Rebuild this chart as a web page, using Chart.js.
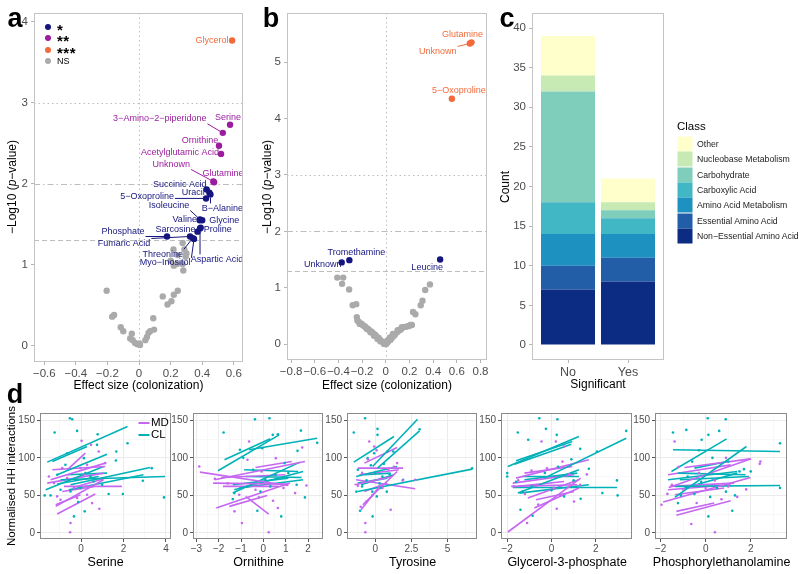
<!DOCTYPE html>
<html>
<head>
<meta charset="utf-8">
<script src="https://cdn.jsdelivr.net/npm/chart.js@4.4.0/dist/chart.umd.min.js"></script>
<style>
  body { margin: 0; width: 800px; height: 574px; position: relative; background: #fff; overflow: hidden;
         font-family: 'Liberation Sans', Arial, sans-serif; }
  canvas { position: absolute; }
  .t { position: absolute; white-space: nowrap; color: #000; line-height: 1; }
</style>
</head>
<body>
<canvas id="pa"></canvas>
<canvas id="pb"></canvas>
<canvas id="pc"></canvas>
<canvas id="d1"></canvas>
<canvas id="d2"></canvas>
<canvas id="d3"></canvas>
<canvas id="d4"></canvas>
<canvas id="d5"></canvas>
<script>
// ---------- panel a : volcano, colonization (metabolite model 1)
const aNames = ['Glycerol', 'Serine', '3\u2212Amino\u22122\u2212piperidone', 'Ornithine', 'Acetylglutamic Acid', 'Unknown', 'Glutamine',
  'Succinic Acid', 'Uracil', '5\u2212Oxoproline', 'B\u2212Alanine', 'Isoleucine', 'Valine', 'Glycine', 'Proline', 'Sarcosine',
  'Phosphate', 'Fumaric Acid', 'Threonine', 'Myo\u2212Inositol', 'Aspartic Acid']
const aEffect = [0.589, 0.576, 0.53, 0.506, 0.519, 0.47, 0.475, 0.428, 0.445, 0.424, 0.452, 0.386, 0.384, 0.4, 0.39, 0.37, 0.177, 0.323, 0.34, 0.348, 0.386]
const aLogP = [3.77, 2.73, 2.63, 2.47, 2.37, 2.03, 2.02, 1.93, 1.89, 1.82, 1.87, 1.56, 1.55, 1.55, 1.46, 1.41, 1.35, 1.35, 1.33, 1.32, 1.45]
const aNsEffect = [-0.205, -0.158, -0.17, -0.116, -0.1, -0.046, -0.056, -0.04, -0.025, -0.01, 0.006, 0.003, 0.04, 0.05, 0.06, 0.07, 0.095,
  0.09, 0.15, 0.18, 0.205, 0.22, 0.245, 0.218, 0.245, 0.2, 0.276, 0.287, 0.295, 0.28, 0.276, 0.24, 0.22, 0.3]
const aNsLogP = [0.68, 0.38, 0.36, 0.23, 0.18, 0.15, 0.09, 0.07, 0.035, 0.02, 0.01, 0.03, 0.07, 0.11, 0.16, 0.18, 0.2,
  0.34, 0.61, 0.51, 0.55, 0.63, 0.68, 1.19, 1.12, 1.05, 1.27, 1.19, 1.1, 0.93, 1.01, 1.01, 0.99, 1.14]
const aXTicks = [-0.6, -0.4, -0.2, 0, 0.2, 0.4, 0.6]
const aYTicks = [0, 1, 2, 3, 4]

// ---------- panel b : volcano, second model
const bNames = ['Glutamine', 'Unknown', '5\u2212Oxoproline', 'Tromethamine', 'Unknown', 'Leucine']
const bEffect = [0.724, 0.71, 0.558, -0.308, -0.373, 0.459]
const bLogP = [5.35, 5.33, 4.35, 1.49, 1.45, 1.5]
const bNsEffect = [-0.41, -0.36, -0.37, -0.31, -0.28, -0.25, -0.245, -0.24, -0.23, -0.22, -0.21, -0.2, -0.19, -0.18, -0.17, -0.16, -0.15, -0.14,
  -0.13, -0.12, -0.11, -0.1, -0.09, -0.08, -0.07, -0.06, -0.05, -0.045, -0.03, -0.02, -0.015, -0.01, 0, 0.01, 0.015, 0.02, 0.035, 0.04,
  0.05, 0.06, 0.06, 0.07, 0.08, 0.1, 0.1, 0.12, 0.13, 0.135, 0.15, 0.17, 0.19, 0.2, 0.21, 0.22, 0.23, 0.25, 0.295, 0.31, 0.333, 0.373]
const bNsLogP = [1.18, 1.18, 1.07, 0.97, 0.69, 0.71, 0.48, 0.42, 0.4, 0.36, 0.37, 0.35, 0.33, 0.32, 0.3, 0.27, 0.27, 0.25,
  0.21, 0.22, 0.2, 0.15, 0.17, 0.14, 0.09, 0.11, 0.08, 0.05, 0.05, 0.03, 0.005, 0.01, 0, 0.02, 0.065, 0.05, 0.12, 0.08,
  0.11, 0.18, 0.16, 0.15, 0.18, 0.25, 0.22, 0.25, 0.27, 0.3, 0.3, 0.31, 0.32, 0.33, 0.34, 0.34, 0.57, 0.53, 0.69, 0.77, 0.96, 1.06]
const bXTicks = [-0.8, -0.6, -0.4, -0.2, 0, 0.2, 0.4, 0.6, 0.8]
const bYTicks = [0, 1, 2, 3, 4, 5]

// thresholds drawn in a and b
const vLines = [0]
const hDotted = 3
const hDashDot = 2
const hDashed = 1.301

// ---------- panel c : stacked counts
const sigLabels = ['No', 'Yes']
const classes = ['Non\u2212Essential Amino Acid', 'Essential Amino Acid', 'Amino Acid Metabolism', 'Carboxylic Acid', 'Carbohydrate', 'Nucleobase Metabolism', 'Other']
const countNo = [7, 3, 4, 4, 14, 2, 5]
const countYes = [8, 3, 3, 2, 1, 1, 3]
const cYTicks = [0, 5, 10, 15, 20, 25, 30, 35, 40]

// ---------- panel d : per-individual fits, segments are [x1, y1, x2, y2]
const groups = ['MD', 'CL']
const dYTicks = [0, 50, 100, 150]
const dYMinor = [25, 75, 125]

const serineCL = [[-1.6, 94.3, 2.19, 141.7], [-1.36, 95.2, 0.28, 115.1], [-1.13, 77.5, 1.22, 104.9], [-1.67, 57.5, 1.06, 88.5],
  [-0.97, 70.8, 3.96, 75.2], [-0.5, 64.2, 3.25, 87.2], [-0.66, 77.5, 1.22, 79.7], [-0.58, 57.5, 2.94, 77.5], [-1.13, 65.1, 0.83, 75.2]]
const serineMD = [[-1.2, 35.4, 1.06, 70.8], [-1.13, 25.2, 0.67, 51.8], [-1.44, 70.8, 1.14, 93], [-1.36, 84.1, 1.14, 88.5],
  [-0.81, 62, 1.92, 62], [-1.6, 66.4, 1.06, 79.7], [-0.66, 84.1, 0.2, 106.2], [-1.2, 37.6, -0.03, 50.9], [-0.19, 62, 1.06, 72.1], [-0.89, 55.3, 0.59, 61.5]]
const serinePtsCL = [[-0.53, 152.7], [-0.42, 151.4], [-1.25, 133.7], [-0.19, 135.9], [0.78, 131.5], [2.19, 119.5], [1.66, 108.4], [1.64, 96.5],
  [0.75, 117.3], [-0.66, 106.2], [0.13, 99.6], [-1.72, 50], [-1.44, 50], [-0.14, 41.2], [0.17, 28.8], [-0.34, 22.1], [1.3, 51.8], [1.97, 51.8],
  [2.91, 69.5], [3.91, 47.4], [0.2, 79.7], [0.44, 75.2], [-0.97, 57.5], [-0.5, 55.3], [0.59, 68.6], [0.99, 64.2], [-0.74, 90.7], [-0.19, 70.8],
  [-0.03, 59.8], [-1.13, 77.5], [3.33, 86.3]]
const serinePtsMD = [[0.02, 122.6], [0.47, 117.3], [0.83, 108.4], [-0.5, 13.3], [-0.52, 0.9], [0.86, 32.3], [0.52, 39.8], [-1.13, 48.7],
  [-0.97, 44.3], [-0.66, 73], [-0.03, 86.3], [0.28, 90.7], [0.13, 77.5], [-0.89, 86.3], [-1.28, 66.4], [-1.52, 75.2], [-0.34, 59.8],
  [0.28, 50.9], [-0.19, 46.5], [1.14, 93]]

const ornCL = [[-2.03, 82.8, 0.71, 130.6], [-1.74, 97.4, 0.31, 125.3], [-0.64, 110.7, 2.41, 126.2], [-1.37, 53.1, 1.64, 94.3],
  [-1.3, 57.5, 1.78, 81.9], [-0.86, 84.1, 1.56, 81.9], [-0.79, 75.2, 1.71, 73.9], [-1.37, 64.2, 1.12, 73], [-1.08, 59.8, 1.78, 70.8]]
const ornMD = [[-2.84, 81, 1.12, 63.3], [-2.18, 70.8, 1.86, 95.2], [-2.25, 66.4, 1.12, 65.1], [-2.11, 33.2, 1.19, 66.4],
  [-1.52, 35.4, 0.17, 50], [-0.79, 48.7, 0.24, 25.2], [-1.89, 73.9, 0.98, 77.5], [-0.35, 87.2, 1.27, 95.2], [-1.81, 62, 0.68, 62]]
const ornPtsCL = [[-0.375, 151.4], [0.27, 152.7], [-1.78, 133.7], [0.42, 130.6], [1.68, 136.3], [-1.05, 110.7], [-0.05, 112.9], [0.65, 131.5],
  [1.53, 109.3], [1.86, 47.4], [0.8, 22.1], [-0.27, 29.6], [-1.37, 45.1], [-1.3, 53.1], [0.95, 93], [1.12, 79.7], [-0.46, 84.1], [0.09, 70.8],
  [0.54, 77.5], [0.31, 62], [1.49, 64.2], [-0.71, 62], [-0.13, 55.3], [2.41, 120], [-0.9, 100]]
const ornPtsMD = [[-0.64, 121.7], [-2.87, 88.5], [-2.17, 72.1], [-0.96, 13.3], [0.24, 0.9], [-1.29, 28.8], [0.65, 33.2], [0.43, 42.9],
  [-0.2, 47.4], [1.74, 113.8], [1.93, 63.3], [0.56, 99.6], [-0.71, 97.4], [-0.08, 81.9], [-0.35, 57.5], [-1.08, 50.9], [1.42, 53.1], [0.9, 60], [-1.6, 66]]

const tyrCL = [[-1.48, 94.3, 1.3, 128.4], [-0.18, 88.5, 2.93, 151.4], [0.16, 86.3, 3.07, 135.9], [-1.2, 55.3, 6.7, 85],
  [-1.32, 75.2, 1.52, 88.5], [-0.98, 64.2, 1.29, 77.5], [-1.2, 66.4, 0.84, 73], [-0.75, 77.5, 1.07, 79.7]]
const tyrMD = [[-0.98, 31, 0.39, 64.2], [-0.86, 37.6, 1.52, 81.9], [-0.75, 93, 1.52, 113.8], [-1.2, 86.3, 1.93, 86.3],
  [-1.32, 70.8, 2.77, 58.9], [-1.43, 64.2, 1.18, 75.2], [-1.09, 77.5, 1.63, 84.1], [-0.75, 55.3, 0.84, 66.4]]
const tyrPtsCL = [[-0.7, 152.7], [-1.48, 133.7], [0.16, 138.6], [0.16, 130.6], [-0.52, 99.6], [-0.07, 106.2], [0.84, 108.4], [1.25, 108.4],
  [1.93, 70.8], [-1.2, 84.1], [-1.05, 29.6], [-0.18, 22.1], [0.11, 48.7], [0.39, 59.8], [-0.3, 90], [0, 80], [0.5, 75], [-0.6, 70], [-0.9, 62],
  [0.3, 66], [1, 78], [0.6, 92], [-0.2, 55], [-1.3, 55], [0.8, 55], [3.07, 138], [6.7, 86]]
const tyrPtsMD = [[-0.68, 13.3], [-0.68, 0.9], [1.07, 31], [2.77, 70.8], [1.52, 93], [-0.41, 121.7], [-0.07, 115.1], [0.1, 110], [-0.5, 98],
  [-0.9, 80], [-1.2, 63], [0.4, 72], [0.9, 85], [1.3, 88], [-0.6, 42], [-0.2, 50], [0.5, 60], [1.9, 70], [-1, 35]]

const g3pCL = [[-1.97, 88.5, 1.24, 128.4], [-1.6, 96, 0.94, 121.7], [-1.67, 91.6, 0.9, 118.2], [-0.33, 73, 3.38, 126.2],
  [-1.75, 60.6, 2.96, 60.6], [-1.52, 53.1, 1.24, 84.1], [-1.3, 75.2, 1.24, 75.2], [-1.22, 70.8, 1.17, 79.7], [-1.45, 53.1, 1.69, 64.2]]
const g3pMD = [[-1.97, 1.3, 1.32, 73], [-0.78, 33.2, 1.24, 59.8], [-0.7, 44.3, 1.02, 55.3], [-1.82, 62, 1.17, 64.2],
  [-1.6, 73, 1.69, 97.4], [-1.22, 79.7, 0.94, 88.5], [-1.75, 66.4, 1.02, 77.5], [-1.07, 46.5, 1.24, 70.8], [-1.52, 62, 0.57, 68.6]]
const g3pPtsCL = [[-0.55, 152.7], [-1.52, 133.7], [-0.25, 138.6], [0.27, 151.4], [-1.05, 124], [0.24, 130.6], [-2, 79.7], [-2, 75.2],
  [-1.4, 31], [-0.85, 23], [2.06, 108.4], [3.38, 135.9], [2.96, 70], [2.99, 50], [2.3, 53.1], [1.69, 85.4], [1.32, 45.6], [0.57, 48.7],
  [-1.3, 55], [-0.9, 62], [-0.3, 80], [0.3, 88], [0.9, 98], [1.3, 112], [-1.6, 68], [0, 57], [1, 70]]
const g3pPtsMD = [[-1.1, 13.3], [-0.45, 121.7], [0.2, 121.7], [0.57, 115.1], [0.24, 32.3], [1.02, 42], [-1.7, 62], [-0.2, 86], [0.5, 95],
  [1.3, 64], [-1.2, 52], [-0.6, 38], [0.1, 60], [0.8, 78], [-1.5, 70], [-0.9, 83], [1.6, 78], [0.4, 50]]

const pheCL = [[-1.45, 110.7, 3.3, 108.4], [-1.52, 81.9, 0.93, 125.3], [-1.37, 47.4, 1.81, 115.1], [-1.37, 62, 3.3, 63.3],
  [-1.23, 79.7, 1.77, 77.5], [-1.15, 70.8, 1.92, 75.2], [-0.94, 59.8, 1.4, 79.7], [-0.5, 86.3, 0.96, 95.2], [-1.67, 70.8, 1.4, 81.9]]
const pheMD = [[-1.89, 41.2, 1.99, 73.9], [-1.3, 23.5, 1.11, 42.9], [-1.3, 28.8, 0.38, 39.8], [-1.64, 60.6, 2.02, 98.7],
  [-0.94, 87.2, 1.99, 98.7], [-1.67, 77.5, 1.11, 90.7], [-1.59, 62, 1.26, 66.4], [-1.67, 57.5, 1.11, 64.2], [-1.37, 50.9, 0.82, 59.8]]
const phePtsCL = [[-1.45, 133.7], [0.09, 152.7], [0.89, 151.4], [-0.86, 137.2], [-0.18, 124], [0.12, 130.6], [0.6, 135.9], [3.3, 119.5],
  [0.12, 22.1], [1.18, 29.6], [-1.23, 39.8], [-0.3, 110], [0.3, 100], [1, 95], [1.5, 82], [2, 82], [-0.8, 75], [-0.2, 68], [0.5, 60],
  [0.9, 55], [1.3, 50], [-1.1, 50], [-0.5, 52], [0.2, 48], [3.3, 60], [1.7, 85], [-0.6, 95]]
const phePtsMD = [[-1.38, 121.7], [-0.64, 12], [0.41, 0.9], [-1.96, 37.6], [2.43, 95.2], [1.4, 48], [0.7, 45], [-0.3, 80], [-1.2, 88],
  [0.4, 70], [-1.5, 64], [-1, 58], [0, 60], [1, 62], [1.8, 58], [-0.4, 40], [0.9, 100], [2.4, 92], [-1.7, 52]]

// ---------- styles and layout
const FONT = "'Liberation Sans', Arial, sans-serif"
const sigColors = ['#aaaaaa', '#15157f', '#9c1ca0', '#f26a3b']
const classColors = ['#0c2c84', '#225ea8', '#1d91c0', '#41b6c4', '#7fcdbb', '#c7e9b4', '#ffffcc']
const grpColors = { MD: '#c667f2', CL: '#00b2b8' }

// label offsets (px from point to label centre)
const aLabelOff = [[-20, 0], [-2, -7], [-63, -14], [-19, -5], [-41, -1], [-42, -17], [9, -9], [-27, -5], [-16, 0], [-59, -2], [12, 14],
  [-31, -14], [-15, -1], [22, 0], [17, 2], [-22, -2], [-44, -5], [-66, 7], [-30, 16], [-29, 24], [17, 31]]
const bLabelOff = [[-9, -8], [-32, 8], [7, -8], [7, -8], [-19, 2], [-13, 8]]

Chart.defaults.font.family = FONT
Chart.defaults.animation = false

const level = y => y > 3 ? 3 : y > 2 ? 2 : y > 1.301 ? 1 : 0
const fmt = v => String(v).replace('-', '\u2212')

function place (id, box) {
  const c = document.getElementById(id)
  c.width = box[2]; c.height = box[3]
  c.style.left = box[0] + 'px'; c.style.top = box[1] + 'px'
  return c
}

function put (x, y, html, css, opt = {}) {
  const d = document.createElement('div')
  d.className = 't'
  d.innerHTML = html
  d.style.cssText = `left:${x}px;top:${y}px;` + css
  const tx = opt.left ? '0' : '-50%'
  d.style.transform = `translate(${tx},-50%)` + (opt.rot ? ' rotate(-90deg)' : '')
  document.body.appendChild(d)
}

function axis (min, max, ticks, size, o = {}) {
  const minor = o.minor || []
  const isMinor = ctx => !!ctx.tick && minor.includes(ctx.tick.value)
  return {
    type: 'linear',
    min,
    max,
    bounds: 'data',
    afterBuildTicks: s => { s.ticks = ticks.concat(minor).map(v => ({ value: v })) },
    afterFit: s => { if (s.isHorizontal()) s.height = size; else s.width = size },
    border: { display: false },
    grid: {
      offset: false,
      drawOnChartArea: !!o.grid,
      color: ctx => isMinor(ctx) ? '#f4f4f4' : '#ebebeb',
      lineWidth: ctx => isMinor(ctx) ? 0.6 : 1,
      tickLength: 3,
      tickColor: ctx => (!ctx.tick || isMinor(ctx)) ? 'rgba(0,0,0,0)' : (o.tickColor || '#b5b5b5')
    },
    ticks: {
      color: '#4d4d4d',
      font: { size: o.fs || 11.5 },
      padding: o.pad ?? 2,
      maxRotation: 0,
      autoSkip: false,
      callback: v => minor.includes(v) ? '' : (o.label ? o.label(v) : fmt(v))
    }
  }
}

const frame = {
  id: 'frame',
  afterDraw (chart, args, opts) {
    const { ctx, chartArea: a } = chart
    ctx.save()
    ctx.strokeStyle = opts.color || '#bdbdbd'
    ctx.lineWidth = 1
    ctx.strokeRect(Math.round(a.left) + 0.5, Math.round(a.top) + 0.5, Math.round(a.width) - 1, Math.round(a.height) - 1)
    ctx.restore()
  }
}

const refLines = {
  id: 'refLines',
  beforeDatasetsDraw (chart) {
    const { ctx, chartArea: a, scales: { x, y } } = chart
    ctx.save()
    ctx.strokeStyle = '#bdbdbd'
    ctx.lineWidth = 1
    const h = (v, dash) => {
      const py = Math.round(y.getPixelForValue(v)) + 0.5
      ctx.setLineDash(dash); ctx.beginPath(); ctx.moveTo(a.left, py); ctx.lineTo(a.right, py); ctx.stroke()
    }
    vLines.forEach(v => {
      const px = Math.round(x.getPixelForValue(v)) + 0.5
      ctx.setLineDash([1.5, 3]); ctx.beginPath(); ctx.moveTo(px, a.top); ctx.lineTo(px, a.bottom); ctx.stroke()
    })
    h(hDotted, [1.5, 3])
    h(hDashDot, [6, 3, 1.5, 3])
    h(hDashed, [5, 3])
    ctx.restore()
  }
}

const pointLabels = {
  id: 'pointLabels',
  afterDatasetsDraw (chart, args, opts) {
    const { ctx, scales: { x, y } } = chart
    ctx.save()
    ctx.font = `9px ${FONT}`
    ctx.textAlign = 'center'
    ctx.textBaseline = 'middle'
    opts.names.forEach((name, i) => {
      const px = x.getPixelForValue(opts.xs[i])
      const py = y.getPixelForValue(opts.ys[i])
      const lx = px + opts.off[i][0]
      const ly = py + opts.off[i][1]
      const col = sigColors[level(opts.ys[i])]
      const w = ctx.measureText(name).width / 2 + 1
      const h = 5
      const cx = Math.min(Math.max(px, lx - w), lx + w)
      const cy = Math.min(Math.max(py, ly - h), ly + h)
      const dist = Math.hypot(px - cx, py - cy)
      if (dist > 7) {
        ctx.strokeStyle = col
        ctx.lineWidth = 1
        ctx.beginPath(); ctx.moveTo(cx, cy); ctx.lineTo(px - (px - cx) * 3 / dist, py - (py - cy) * 3 / dist); ctx.stroke()
      }
      ctx.fillStyle = col
      ctx.fillText(name, lx, ly)
    })
    ctx.restore()
  }
}

function volcano (id, box, area, xr, xt, yr, yt, names, ex, ey, nsx, nsy, off) {
  const levels = [0, 1, 2, 3]
  const datasets = levels.map(l => {
    const pts = l === 0
      ? nsx.map((v, i) => ({ x: v, y: nsy[i] }))
      : ex.map((v, i) => ({ x: v, y: ey[i] })).filter(p => level(p.y) === l)
    return { data: pts, backgroundColor: sigColors[l], borderWidth: 0, pointRadius: 3.2, pointHoverRadius: 3.2 }
  })
  new Chart(place(id, box), {
    type: 'scatter',
    data: { datasets },
    options: {
      responsive: false,
      devicePixelRatio: 1,
      layout: { padding: { top: area[1] - box[1], right: box[0] + box[2] - area[2], left: 0, bottom: 0 } },
      scales: {
        x: axis(xr[0], xr[1], xt, box[1] + box[3] - area[3]),
        y: axis(yr[0], yr[1], yt, area[0] - box[0], { pad: 3 })
      },
      plugins: {
        legend: { display: false },
        tooltip: { enabled: false },
        frame: { color: '#c4c4c4' },
        pointLabels: { names, xs: ex, ys: ey, off }
      }
    },
    plugins: [refLines, frame, pointLabels]
  })
}

// ---- a
volcano('pa', [0, 0, 262, 393], [34, 13, 243, 362], [-0.665, 0.658], aXTicks, [-0.2, 4.11], aYTicks,
  aNames, aEffect, aLogP, aNsEffect, aNsLogP, aLabelOff)
// ---- b
volcano('pb', [258, 0, 262, 393], [287, 13, 487, 360], [-0.835, 0.855], bXTicks, [-0.28, 5.87], bYTicks,
  bNames, bEffect, bLogP, bNsEffect, bNsLogP, bLabelOff)

// ---- c
;(function () {
  const box = [498, 0, 302, 393]
  const area = [532, 13, 664, 360]
  new Chart(place('pc', box), {
    type: 'bar',
    data: {
      datasets: classes.map((c, i) => ({
        label: c,
        data: [{ x: 1, y: countNo[i] }, { x: 2, y: countYes[i] }],
        backgroundColor: classColors[i],
        borderWidth: 0,
        barPercentage: 0.9,
        categoryPercentage: 1
      }))
    },
    options: {
      responsive: false,
      devicePixelRatio: 1,
      layout: { padding: { top: area[1] - box[1], right: box[0] + box[2] - area[2], left: 0, bottom: 0 } },
      scales: {
        x: Object.assign(axis(0.4, 2.6, [1, 2], box[1] + box[3] - area[3], { fs: 12.5, label: v => sigLabels[v - 1] }), { stacked: true, offset: false }),
        y: Object.assign(axis(-1.9, 41.9, cYTicks, area[0] - box[0], { pad: 3 }), { stacked: true })
      },
      plugins: { legend: { display: false }, tooltip: { enabled: false }, frame: { color: '#c4c4c4' } }
    },
    plugins: [frame]
  })
})()

// ---- d
const dPanels = [
  { id: 'd1', title: 'Serine', cl: serineCL, md: serineMD, pCL: serinePtsCL, pMD: serinePtsMD, xr: [-1.94, 4.24], major: [0, 2, 4], minor: [-1, 1, 3], area: [40, 171.3] },
  { id: 'd2', title: 'Ornithine', cl: ornCL, md: ornMD, pCL: ornPtsCL, pMD: ornPtsMD, xr: [-3.15, 2.67], major: [-3, -2, -1, 0, 1, 2], minor: [-2.5, -1.5, -0.5, 0.5, 1.5, 2.5], area: [193.3, 324] },
  { id: 'd3', title: 'Tyrosine', cl: tyrCL, md: tyrMD, pCL: tyrPtsCL, pMD: tyrPtsMD, xr: [-1.95, 7.04], major: [0, 2.5, 5], minor: [-1.25, 1.25, 3.75, 6.25], area: [347.3, 478] },
  { id: 'd4', title: 'Glycerol-3-phosphate', cl: g3pCL, md: g3pMD, pCL: g3pPtsCL, pMD: g3pPtsMD, xr: [-2.28, 3.64], major: [-2, 0, 2], minor: [-1, 1, 3], area: [501.3, 633] },
  { id: 'd5', title: 'Phosphorylethanolamine', cl: pheCL, md: pheMD, pCL: phePtsCL, pMD: phePtsMD, xr: [-2.25, 3.61], major: [-2, 0, 2], minor: [-1, 1, 3], area: [655.3, 788] }
]

const seg = (s, color) => ({
  type: 'line', data: [{ x: s[0], y: s[1] }, { x: s[2], y: s[3] }], borderColor: color, borderWidth: 1.6, pointRadius: 0, fill: false
})
const pts = (p, color) => ({
  type: 'scatter', data: p.map(q => ({ x: q[0], y: q[1] })), backgroundColor: color, borderWidth: 0, pointRadius: 1.3, pointHoverRadius: 1.3
})

dPanels.forEach(p => {
  const top = 400
  const areaTop = 413
  const areaBottom = 539
  const box = [p.area[0] - 32, top, p.area[1] - p.area[0] + 32 + 8, 574 - top]
  const datasets = [pts(p.pMD, grpColors.MD), pts(p.pCL, grpColors.CL)]
  p.md.forEach((s, i) => {
    datasets.push(seg(s, grpColors.MD))
    if (p.cl[i]) datasets.push(seg(p.cl[i], grpColors.CL))
  })
  p.cl.slice(p.md.length).forEach(s => datasets.push(seg(s, grpColors.CL)))
  new Chart(place(p.id, box), {
    type: 'scatter',
    data: { datasets },
    options: {
      responsive: false,
      devicePixelRatio: 1,
      layout: { padding: { top: areaTop - top, right: 8, left: 0, bottom: 0 } },
      scales: {
        x: axis(p.xr[0], p.xr[1], p.major, 574 - areaBottom, { grid: true, minor: p.minor, fs: 10, pad: 1, tickColor: '#555' }),
        y: axis(-8, 159.7, dYTicks, 32, { grid: true, minor: dYMinor, fs: 10, pad: 2, tickColor: '#555' })
      },
      plugins: { legend: { display: false }, tooltip: { enabled: false }, frame: { color: '#8a8a8a' } }
    },
    plugins: [frame]
  })
  put((p.area[0] + p.area[1]) / 2, 562, p.title, 'font-size:12.5px;')
})

// ---------- text: panel letters, axis titles, legends
const letter = 'font-size:27px;font-weight:bold;'
put(15, 18, 'a', letter)
put(271, 18, 'b', letter)
put(507, 18, 'c', letter)
put(15, 394, 'd', letter)

put(138.5, 385, 'Effect size (colonization)', 'font-size:12px;')
put(387, 385, 'Effect size (colonization)', 'font-size:12px;')
put(598, 384, 'Significant', 'font-size:12px;')
put(12, 187, '\u2212Log10 (<i>p</i>\u2212value)', 'font-size:12px;', { rot: true })
put(267, 187, '\u2212Log10 (<i>p</i>\u2212value)', 'font-size:12px;', { rot: true })
put(505, 187, 'Count', 'font-size:12px;', { rot: true })
put(12, 476, 'Normalised HH interactions', 'font-size:11.5px;', { rot: true })

// a legend
const sigKeys = ['*', '**', '***', 'NS']
const sigKeyCol = [1, 2, 3, 0]
sigKeys.forEach((k, i) => {
  const y = 27 + i * 11.3
  put(48, y, '', `width:6px;height:6px;border-radius:50%;background:${sigColors[sigKeyCol[i]]};`)
  if (k === 'NS') put(57, y, k, 'font-size:9px;', { left: true })
  else put(57, y + 2, k, 'font-size:15px;font-weight:bold;letter-spacing:0.5px;', { left: true })
})

// c legend
put(677, 127, 'Class', 'font-size:11.5px;', { left: true })
classes.slice().reverse().forEach((c, i) => {
  const y = 144 + i * 15.3
  put(685, y, '', `width:15px;height:15px;background:${classColors[classes.length - 1 - i]};`)
  put(697, y, c, 'font-size:8.7px;color:#222;', { left: true })
})

// d legend
groups.forEach((g, i) => {
  const y = 423 + i * 12
  put(144, y, '', `width:11px;height:2px;background:${grpColors[g]};`)
  put(151, y, g, 'font-size:11.5px;', { left: true })
})
</script>
</body>
</html>
